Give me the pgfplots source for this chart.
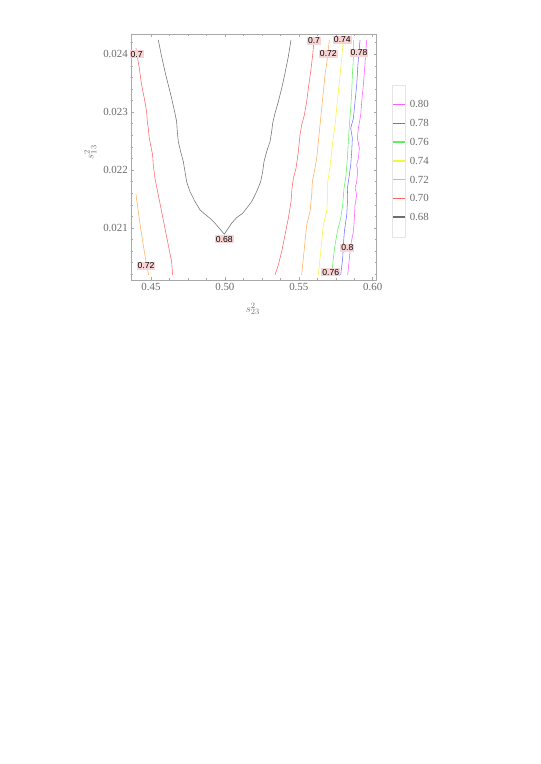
\documentclass[border=0pt]{standalone}
\usepackage{fontspec}
\setmainfont{Liberation Serif}
\setsansfont{Liberation Sans}
\usepackage{pgfplots}
\pgfplotsset{compat=1.18}

\definecolor{frame}{HTML}{A8A8A8}
\definecolor{ticktext}{HTML}{6A6A6A}
\definecolor{labelpink}{HTML}{F9D4D4}
\definecolor{c68}{HTML}{6E6E6E}
\definecolor{c70}{HTML}{FF6464}
\definecolor{c72}{HTML}{FFAE5E}
\definecolor{c74}{HTML}{F5F53C}
\definecolor{c76}{HTML}{5EF05E}
\definecolor{c78}{HTML}{6E6EFF}
\definecolor{c80}{HTML}{FF5CFF}

\pgfplotstableread{
x y
0.45496 0.024248
0.45722 0.023960
0.45947 0.023701
0.46173 0.023470
0.46398 0.023240
0.46624 0.022981
0.46737 0.022837
0.46782 0.022664
0.46850 0.022491
0.47007 0.022319
0.47188 0.022146
0.47301 0.021973
0.47414 0.021800
0.47639 0.021628
0.47977 0.021455
0.48316 0.021311
0.48654 0.021236
0.48992 0.021167
0.49331 0.021081
0.49624 0.020994
0.49962 0.020891
0.50233 0.020994
0.50459 0.021081
0.50797 0.021178
0.51203 0.021253
0.51474 0.021340
0.51812 0.021455
0.52150 0.021628
0.52421 0.021800
0.52556 0.021973
0.52647 0.022146
0.52827 0.022319
0.53053 0.022491
0.53165 0.022664
0.53233 0.022808
0.53391 0.022981
0.53616 0.023182
0.53842 0.023413
0.54068 0.023672
0.54293 0.023960
0.54474 0.024248
}\cA

\pgfplotstableread{
x y
0.43985 0.024104
0.44211 0.023758
0.44368 0.023470
0.44549 0.023240
0.44707 0.023010
0.44752 0.022837
0.44820 0.022722
0.44887 0.022549
0.45000 0.022405
0.45113 0.022261
0.45158 0.022088
0.45271 0.021858
0.45496 0.021570
0.45722 0.021282
0.45947 0.020994
0.46173 0.020706
0.46398 0.020418
0.46466 0.020188
}\cBl

\pgfplotstableread{
x y
0.53391 0.020188
0.53616 0.020361
0.53842 0.020591
0.54068 0.020879
0.54293 0.021167
0.54474 0.021455
0.54541 0.021685
0.54632 0.021858
0.54812 0.022031
0.54970 0.022319
0.55083 0.022607
0.55195 0.022779
0.55376 0.022952
0.55534 0.023182
0.55646 0.023413
0.55804 0.023701
0.55940 0.023988
0.56030 0.024248
}\cBr

\pgfplotstableread{
x y
0.43985 0.021582
0.44143 0.021282
0.44301 0.020994
0.44481 0.020706
0.44662 0.020418
0.44842 0.020188
}\cCl

\pgfplotstableread{
x y
0.55195 0.020188
0.55308 0.020476
0.55421 0.020764
0.55534 0.021052
0.55759 0.021282
0.55872 0.021570
0.55917 0.021800
0.56052 0.021973
0.56210 0.022203
0.56323 0.022491
0.56436 0.022779
0.56549 0.023067
0.56661 0.023355
0.56774 0.023643
0.56932 0.023931
0.57067 0.024248
}\cCr

\pgfplotstableread{
x y
0.56323 0.020188
0.56436 0.020476
0.56549 0.020764
0.56661 0.021052
0.56887 0.021282
0.56955 0.021570
0.56955 0.021800
0.57067 0.021973
0.57180 0.022203
0.57293 0.022491
0.57451 0.022779
0.57564 0.023067
0.57677 0.023355
0.57789 0.023643
0.57902 0.023931
0.58015 0.024248
}\cD

\pgfplotstableread{
x y
0.57225 0.020188
0.57338 0.020476
0.57451 0.020706
0.57609 0.020937
0.57834 0.021167
0.57970 0.021397
0.58060 0.021685
0.58195 0.021916
0.58286 0.022203
0.58353 0.022491
0.58421 0.022779
0.58511 0.023067
0.58579 0.023355
0.58624 0.023643
0.58692 0.023931
0.58692 0.024248
}\cE

\pgfplotstableread{
x y
0.57834 0.020188
0.57970 0.020476
0.58015 0.020706
0.58083 0.020937
0.58241 0.021225
0.58308 0.021512
0.58286 0.021685
0.58421 0.021916
0.58511 0.022088
0.58579 0.022319
0.58624 0.022549
0.58511 0.022722
0.58692 0.022894
0.58804 0.023182
0.58917 0.023470
0.58985 0.023758
0.59053 0.023988
0.59143 0.024248
}\cF

\pgfplotstableread{
x y
0.58308 0.020188
0.58421 0.020476
0.58511 0.020706
0.58692 0.020937
0.58759 0.021167
0.58804 0.021397
0.58917 0.021570
0.58804 0.021685
0.58917 0.021800
0.58985 0.021973
0.58917 0.022088
0.59030 0.022203
0.59098 0.022376
0.58962 0.022549
0.59030 0.022722
0.59188 0.022952
0.59256 0.023182
0.59368 0.023470
0.59436 0.023701
0.59504 0.023931
0.59594 0.024248
}\cG

\pgfplotstableread{
x y lab
0.44030 0.024000 0.7
0.56030 0.024236 0.7
0.57000 0.024006 0.72
0.57947 0.024248 0.74
0.59075 0.024029 0.78
0.49962 0.020804 0.68
0.44662 0.020349 0.72
0.57158 0.020234 0.76
0.58286 0.020660 0.8
}\labels

\begin{document}
\begin{tikzpicture}
\path[use as bounding box] (0,0) rectangle (595.28pt,-842.2pt);
\begin{axis}[
    at={(144.41pt,-308.66pt)}, anchor=south west,
    scale only axis, width=270.85pt, height=270.85pt,
    xmin=0.4365, xmax=0.6027, ymin=0.02010, ymax=0.024345,
    clip=false,
    axis line style={draw=frame, line width=0.5pt},
    tick style={draw=frame, line width=0.5pt},
    tick align=inside,
    major tick length=3.5pt, minor tick length=2pt,
    xtick={0.45,0.5,0.55,0.6},
    ytick={0.021,0.022,0.023,0.024},
    minor xtick={0.4625,0.475,0.4875,0.5125,0.525,0.5375,0.5625,0.575,0.5875},
    minor ytick={0.0202,0.0204,0.0206,0.0208,0.0212,0.0214,0.0216,0.0218,0.0222,0.0224,0.0226,0.0228,0.0232,0.0234,0.0236,0.0238,0.0242},
    scaled ticks=false,
    /pgf/number format/assume math mode=true,
    tick label style={font=\fontsize{12}{14}\selectfont, text=ticktext},
    xticklabel style={/pgf/number format/.cd, fixed, fixed zerofill, precision=2},
    yticklabel style={/pgf/number format/.cd, fixed, fixed zerofill, precision=3},
    xlabel={$s_{23}^{2}$}, ylabel={$s_{13}^{2}$},
    label style={font=\fontsize{13}{15}\selectfont, text=ticktext},
    xlabel style={at={(axis description cs:0.496,-0.118)}, anchor=center},
    ylabel style={at={(axis description cs:-0.165,0.52)}, anchor=center},
]
\addplot[c68, line width=0.6pt] table {\cA};
\addplot[c70, line width=0.6pt] table {\cBl};
\addplot[c70, line width=0.6pt] table {\cBr};
\addplot[c72, line width=0.6pt] table {\cCl};
\addplot[c72, line width=0.6pt] table {\cCr};
\addplot[c74, line width=0.6pt] table {\cD};
\addplot[c76, line width=0.6pt] table {\cE};
\addplot[c78, line width=0.6pt] table {\cF};
\addplot[c80, line width=0.6pt] table {\cG};
\addplot[draw=none, mark=none, nodes near coords, point meta=explicit symbolic,
    every node near coord/.style={anchor=center, fill=labelpink, inner sep=1pt,
        font=\fontsize{9.5}{10}\sffamily\selectfont, text=black}]
    table[meta=lab] {\labels};
\end{axis}
% legend
\draw[draw=black!10, line width=0.4pt] (432.13pt,-93.70pt) rectangle (446.46pt,-261.26pt);
\def\legrow#1#2#3{%
  \draw[draw=#1, line width=1.3pt] (433.2pt,-#3pt) -- (446.46pt,-#3pt);
  \node[anchor=west, inner sep=0pt, text=ticktext, font=\fontsize{12}{14}\selectfont]
    at (451.5pt,-#3pt) {#2};}
\legrow{c80}{0.80}{114.98}
\legrow{c78}{0.78}{135.70}
\legrow{c76}{0.76}{156.53}
\legrow{c74}{0.74}{177.48}
\legrow{c72}{0.72}{198.10}
\legrow{c70}{0.70}{218.60}
\legrow{c68}{0.68}{239.22}
\end{tikzpicture}
\end{document}
